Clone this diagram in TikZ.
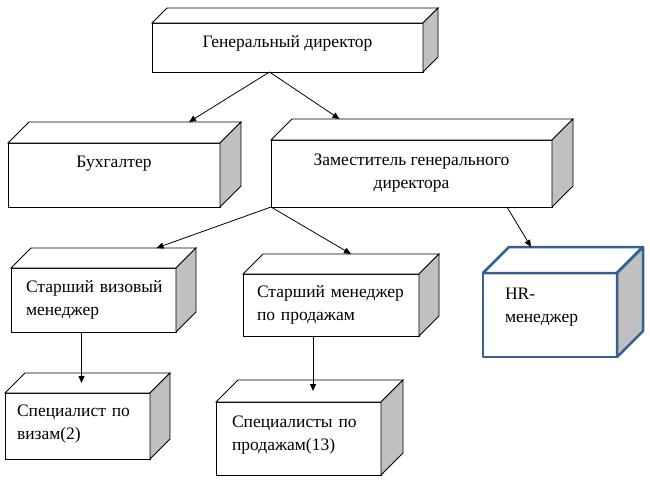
\documentclass[tikz,border=0pt]{standalone}
\usepackage{fontspec}
\setmainfont{Liberation Serif}
\usetikzlibrary{positioning,arrows.meta,calc}
\definecolor{orgSide}{RGB}{192,192,192}
\definecolor{orgBlue}{RGB}{54,96,146}
\tikzset{
    block/.style={rectangle, draw=black, line width=0.8pt, fill=white, anchor=north west,
                  font=\fontsize{17.5}{23}\selectfont, inner ysep=0pt, outer sep=0pt},
    midblock/.style={block, align=center, inner xsep=0pt},
    leftblock/.style={block, align=left},
    face/.style={draw=black, line width=0.8pt, fill=white},
    hrface/.style={face, draw=orgBlue, line width=2.5pt, line join=round},
    link/.style={-{Triangle[length=7pt,width=6pt]}, line width=0.8pt, color=black}
}

\begin{document}
\begin{tikzpicture}[x=1pt, y=-1pt]
  \useasboundingbox (0,0) rectangle (650,483);

  % Top level
  \node[midblock, minimum width=271pt, minimum height=49pt,
        text height=12pt, text depth=12pt] (gd) at (152,23) {Генеральный директор};

  % Second level
  \node[midblock, minimum width=212pt, minimum height=64pt,
        text height=12pt, text depth=27pt] (buh) at (8,143) {Бухгалтер};
  \node[midblock, minimum width=281pt, minimum height=67pt] (zam) at (271,140)
    {Заместитель генерального\\директора};

  % Third level
  \node[leftblock, text width=135pt, inner xsep=15pt, minimum height=64pt] (vizmgr) at (11,268)
    {Старший~визовый\\менеджер};
  \node[leftblock, text width=148pt, inner xsep=14pt, minimum height=62pt] (salesmgr) at (243,274)
    {Старший~менеджер\\по продажам};
  \node[leftblock, text width=90pt, inner xsep=22pt, minimum height=84pt,
        draw=orgBlue, line width=2.5pt, line join=round,
        text height=12pt, text depth=44pt] (hr) at (483,273)
    {HR-\\менеджер};

  % Bottom level
  \node[leftblock, text width=121pt, inner xsep=12pt, minimum height=66pt,
        text height=12pt, text depth=32pt] (vizspec) at (5,393)
    {Специалист~по\\визам(2)};
  \node[leftblock, text width=133pt, inner xsep=16pt, minimum height=73pt,
        text height=12pt, text depth=35pt] (salesspec) at (216,402)
    {Специалисты~по\\продажам(13)};

  % Top and side faces of the boxes
  \foreach \n/\d/\s in {gd/15/face, buh/21/face, zam/21/face, vizmgr/20/face,
                        salesmgr/20/face, hr/26/hrface, vizspec/20/face, salesspec/22/face}{
    \draw[\s] (\n.north west) -- ++(\d,-\d) -- ([shift={(\d,-\d)}]\n.north east)
      -- (\n.north east) -- cycle;
    \draw[\s, fill=orgSide] (\n.north east) -- ++(\d,-\d) -- ([shift={(\d,-\d)}]\n.south east)
      -- (\n.south east) -- cycle;
    \coordinate (\n-back) at ([shift={(\d,-\d)}]\n.north);
    \coordinate (\n-mid) at ([shift={(\d/2,-\d/2)}]\n.north);
  }

  % Arrows
  \draw[link] ([xshift=-18pt]gd.south) -- ([xshift=54pt]buh-back);
  \draw[link] ([xshift=-18pt]gd.south) -- ([xshift=-93pt]zam-back);
  \draw[link] (zam.south west) -- ([xshift=43pt]vizmgr-back);
  \draw[link] (zam.south west) -- (salesmgr-back);
  \draw[link] ([xshift=-45pt]zam.south east) -- ([xshift=-45pt]hr-back);
  \draw[link] ([xshift=-12pt]vizmgr.south) coordinate (vizdrop) -- (vizdrop |- vizspec-mid);
  \draw[link] ([xshift=-18pt]salesmgr.south) coordinate (salesdrop) -- (salesdrop |- salesspec-mid);
\end{tikzpicture}
\end{document}
